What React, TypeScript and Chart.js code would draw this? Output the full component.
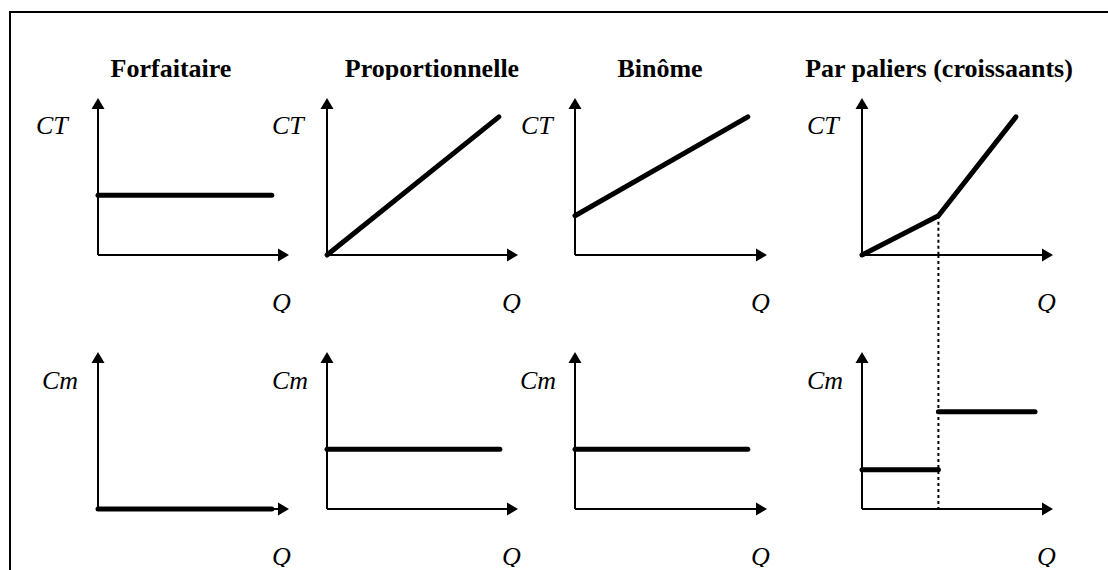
import React, { useEffect, useRef } from "react";
import { Chart, registerables } from "chart.js";

Chart.register(...registerables);

// ---------- text ----------
const titles = ["Forfaitaire", "Proportionnelle", "Binôme", "Par paliers (croissaants)"];
const topAxisLabel = "CT";
const bottomAxisLabel = "Cm";
const quantityLabel = "Q";

// ---------- axis ranges (arbitrary units) ----------
const Q_MAX = 10;
const V_MAX = 10;

// ---------- data: total cost (CT) and marginal cost (Cm) vs quantity (Q) ----------
const forfaitaireQ = [0, 9.1];
const forfaitaireCT = [3.8, 3.8];
const forfaitaireCm = [0, 0];

const proportionnelleQ = [0, 9.0];
const proportionnelleCT = [0, 8.8];
const proportionnelleCmQ = [0, 9.05];
const proportionnelleCm = [3.8, 3.8];

const binomeQ = [0, 9.0];
const binomeCT = [2.5, 8.8];
const binomeCm = [3.8, 3.8];

const palierQ = [0, 4, 8.06];
const palierCT = [0, 2.5, 8.8];
const palierBreakQ = 4;
const palierBreakCT = 2.5;
const palierCmLowQ = [0, 4];
const palierCmLow = [2.5, 2.5];
const palierCmHighQ = [4, 9.06];
const palierCmHigh = [6.2, 6.2];

type Seg = { q: number[]; v: number[] };
type Guide = { q: number; fromValue: number | null } | null;

const FONT = '"Liberation Serif", "Times New Roman", Times, serif';

function Panel(props: {
  ox: number;
  ty: number;
  w: number;
  h: number;
  padT: number;
  padB: number;
  segments: Seg[];
  guide: Guide;
}) {
  const { ox, ty, w, h, padT, padB, segments, guide } = props;
  const padL = 14;
  const padR = 14;
  const ref = useRef<HTMLCanvasElement>(null);
  const cw = w + padL + padR;
  const ch = h + padT + padB;

  useEffect(() => {
    const axesPlugin = {
      id: "arrowAxes",
      beforeDatasetsDraw(chart: any) {
        const { ctx, chartArea: a } = chart;
        const xs = chart.scales.x;
        const ys = chart.scales.y;
        const x0 = xs.getPixelForValue(0);
        const y0 = ys.getPixelForValue(0);
        const xTip = xs.getPixelForValue(Q_MAX);
        const yTip = ys.getPixelForValue(V_MAX);
        ctx.save();
        ctx.strokeStyle = "#000";
        ctx.fillStyle = "#000";
        ctx.lineWidth = 2;
        ctx.setLineDash([]);
        ctx.beginPath();
        ctx.moveTo(x0, y0);
        ctx.lineTo(x0, yTip + 8);
        ctx.moveTo(x0, y0);
        ctx.lineTo(xTip - 8, y0);
        ctx.stroke();
        ctx.beginPath();
        ctx.moveTo(x0, yTip);
        ctx.lineTo(x0 - 6.5, yTip + 11);
        ctx.lineTo(x0 + 6.5, yTip + 11);
        ctx.closePath();
        ctx.fill();
        ctx.beginPath();
        ctx.moveTo(xTip, y0);
        ctx.lineTo(xTip - 11, y0 - 6.5);
        ctx.lineTo(xTip - 11, y0 + 6.5);
        ctx.closePath();
        ctx.fill();

        if (guide) {
          const gx = xs.getPixelForValue(guide.q);
          const gy = guide.fromValue === null ? 0 : ys.getPixelForValue(guide.fromValue);
          ctx.lineWidth = 2;
          ctx.setLineDash([3, 3]);
          ctx.beginPath();
          ctx.moveTo(gx, gy);
          ctx.lineTo(gx, a.bottom);
          ctx.stroke();
        }
        ctx.restore();
      },
    };

    const chart = new Chart(ref.current as HTMLCanvasElement, {
      type: "scatter",
      data: {
        datasets: segments.map((s) => ({
          data: s.q.map((q, i) => ({ x: q, y: s.v[i] })),
          showLine: true,
          borderColor: "#000",
          backgroundColor: "#000",
          borderWidth: 5,
          borderCapStyle: "round",
          borderJoinStyle: "round",
          pointRadius: 0,
          pointHoverRadius: 0,
          clip: false,
        })) as any,
      },
      options: {
        responsive: false,
        maintainAspectRatio: false,
        animation: false,
        events: [],
        layout: { padding: { left: padL, right: padR, top: padT, bottom: padB } },
        scales: {
          x: { type: "linear", min: 0, max: Q_MAX, display: false },
          y: { type: "linear", min: 0, max: V_MAX, display: false },
        },
        plugins: {
          legend: { display: false },
          tooltip: { enabled: false },
          title: { display: false },
        },
      } as any,
      plugins: [axesPlugin],
    });
    return () => chart.destroy();
  }, []);

  return (
    <canvas
      ref={ref}
      width={cw}
      height={ch}
      style={{
        position: "absolute",
        left: ox - padL,
        top: ty - padT,
        width: cw,
        height: ch,
        display: "block",
      }}
    />
  );
}

function Text(props: {
  text: string;
  left: number;
  baseline: number;
  bold?: boolean;
  italic?: boolean;
  center?: boolean;
  clipBelow?: number;
}) {
  const { text, left, baseline, bold, italic, center, clipBelow } = props;
  const top = baseline - 22;
  return (
    <div
      style={{
        position: "absolute",
        left,
        top,
        transform: center ? "translateX(-50%)" : undefined,
        fontFamily: FONT,
        fontSize: 26,
        lineHeight: "26px",
        fontWeight: bold ? "bold" : "normal",
        fontStyle: italic ? "italic" : "normal",
        whiteSpace: "nowrap",
        color: "#000",
        overflow: clipBelow !== undefined ? "hidden" : "visible",
        height: clipBelow !== undefined ? clipBelow : undefined,
      }}
    >
      {text}
    </div>
  );
}

export default function App() {
  const originX = [98, 327, 575, 862];
  const widths = [191, 191, 192, 191];
  const topTip = 98;
  const botTip = 352;
  const axisH = 157;

  const topSegs: Seg[][] = [
    [{ q: forfaitaireQ, v: forfaitaireCT }],
    [{ q: proportionnelleQ, v: proportionnelleCT }],
    [{ q: binomeQ, v: binomeCT }],
    [{ q: palierQ, v: palierCT }],
  ];
  const botSegs: Seg[][] = [
    [{ q: forfaitaireQ, v: forfaitaireCm }],
    [{ q: proportionnelleCmQ, v: proportionnelleCm }],
    [{ q: binomeQ, v: binomeCm }],
    [
      { q: palierCmLowQ, v: palierCmLow },
      { q: palierCmHighQ, v: palierCmHigh },
    ],
  ];

  const titleCenters = [171, 432, 660, 939];
  const ctLefts = [36, 272, 521, 807];
  const cmLefts = [42, 272, 520, 807];
  const qLefts = [272, 502, 751, 1037];

  return (
    <div
      style={{
        position: "absolute",
        left: 0,
        top: 0,
        width: 1108,
        height: 570,
        overflow: "hidden",
        background: "#fff",
      }}
    >
      <div
        style={{
          position: "absolute",
          left: 9,
          top: 11,
          width: 1200,
          height: 700,
          borderLeft: "2px solid #000",
          borderTop: "2px solid #000",
        }}
      />

      {titles.map((t, i) => (
        <Text
          key={"t" + i}
          text={t}
          left={titleCenters[i]}
          baseline={78}
          bold
          center
          clipBelow={i === 1 ? 24 : undefined}
        />
      ))}

      {originX.map((ox, i) => (
        <React.Fragment key={"p" + i}>
          <Text text={topAxisLabel} left={ctLefts[i]} baseline={135} italic />
          <Text text={bottomAxisLabel} left={cmLefts[i]} baseline={390} italic />
          <Text text={quantityLabel} left={qLefts[i]} baseline={312} italic clipBelow={23} />
          <Text text={quantityLabel} left={qLefts[i]} baseline={566} italic clipBelow={23} />
        </React.Fragment>
      ))}

      {originX.map((ox, i) => (
        <Panel
          key={"top" + i}
          ox={ox}
          ty={topTip}
          w={widths[i]}
          h={axisH}
          padT={14}
          padB={14}
          segments={topSegs[i]}
          guide={i === 3 ? { q: palierBreakQ, fromValue: palierBreakCT } : null}
        />
      ))}
      {originX.map((ox, i) => (
        <Panel
          key={"bot" + i}
          ox={ox}
          ty={botTip}
          w={widths[i]}
          h={axisH}
          padT={i === 3 ? botTip - (topTip + axisH) : 14}
          padB={14}
          segments={botSegs[i]}
          guide={i === 3 ? { q: palierBreakQ, fromValue: null } : null}
        />
      ))}
    </div>
  );
}
